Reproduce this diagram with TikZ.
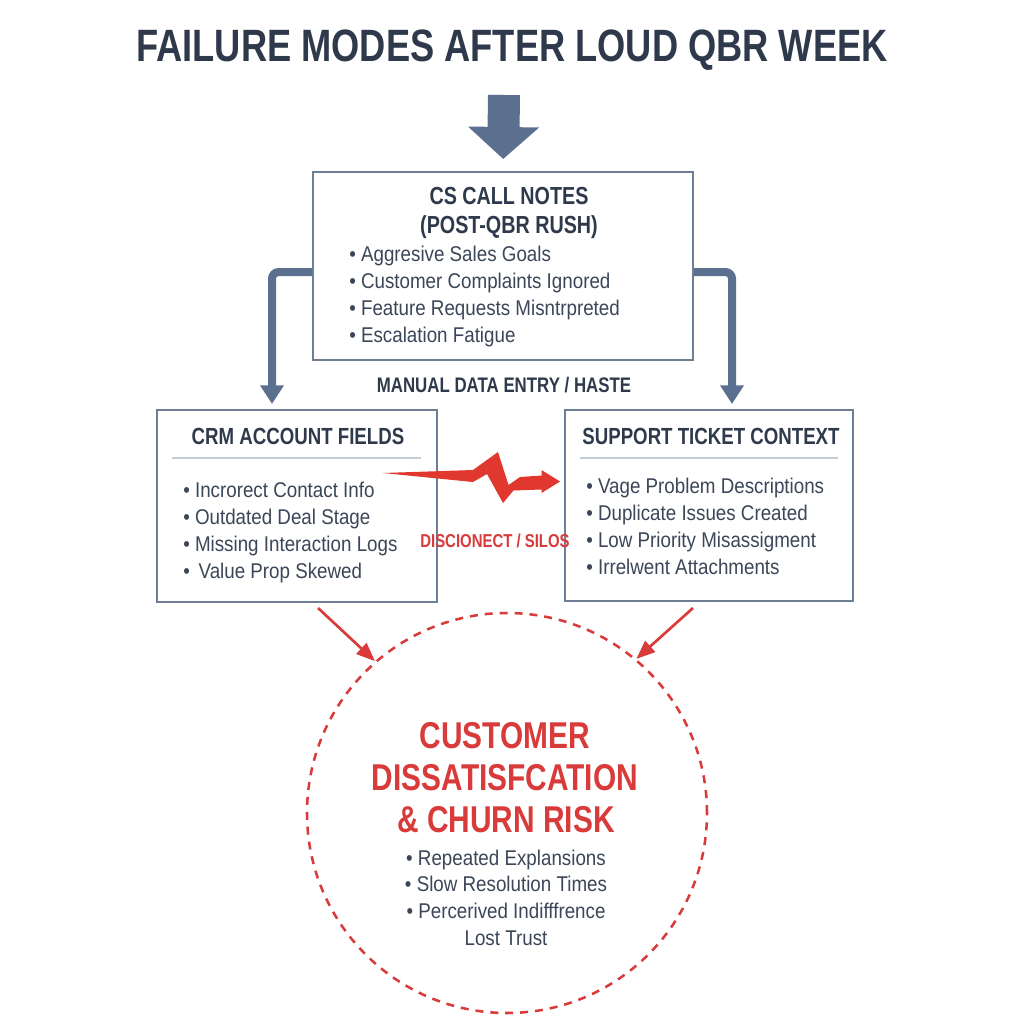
\documentclass[tikz,border=0pt]{standalone}
\usepackage{fontspec}
\usepackage{tikz}
\usetikzlibrary{calc,arrows.meta}
\setmainfont{Liberation Sans}
\newfontfamily\headfont{Liberation Sans}[FakeStretch=0.8]
\newfontfamily\itemfont{Liberation Sans}[FakeStretch=0.88]
\definecolor{slate}{HTML}{2E3A4B}
\definecolor{itemgray}{HTML}{3B4658}
\definecolor{boxline}{HTML}{6E7E94}
\definecolor{ruleline}{HTML}{C3CEDA}
\definecolor{flowblue}{HTML}{5B6F8E}
\definecolor{riskred}{HTML}{D93A3A}
\definecolor{boltred}{HTML}{E0372F}
\newcommand\fsize[2]{\fontsize{#1}{#2}\selectfont}
\newcommand\itemstep{27.3}
\tikzstyle{notebox}=[rectangle,draw=boxline,line width=1.5pt,fill=white,inner sep=0pt]
\tikzstyle{titletext}=[font=\headfont\bfseries\fsize{34pt}{40pt},text=slate,inner sep=0pt]
\tikzstyle{headtext}=[font=\headfont\bfseries\fsize{17.5pt}{21pt},text=slate,inner sep=0pt]
\tikzstyle{itemtext}=[font=\itemfont\fsize{16pt}{20pt},text=itemgray,inner sep=0pt]
\tikzstyle{labeltext}=[font=\headfont\bfseries\fsize{15.8pt}{19pt},text=slate,inner sep=0pt]
\tikzstyle{risktext}=[font=\headfont\bfseries\fsize{28pt}{32pt},text=riskred,inner sep=0pt]
\tikzstyle{flowarrow}=[draw=flowblue,line width=6pt,rounded corners=5pt,
                       -{Triangle[width=17pt,length=14pt]}]
\tikzstyle{riskarrow}=[draw=riskred,line width=2pt,-{Triangle[width=11pt,length=14pt]}]

\begin{document}
\begin{tikzpicture}[x=0.75pt,y=-0.75pt]
    \useasboundingbox[fill=white] (0,0) rectangle (1024,1024);
    % title and entry arrow
    \node [titletext,anchor=base] (title) at (512,62) {FAILURE MODES AFTER LOUD QBR WEEK};
    \coordinate (entry) at (504,95);

    % boxes
    \node [notebox,minimum width=285pt,minimum height=141pt] (cs) at (503,266) {};
    \node [notebox,minimum width=210pt,minimum height=144pt] (crm) at (297,506) {};
    \node [notebox,minimum width=216pt,minimum height=143pt] (support) at (709,505.5) {};
    \node [circle,draw=riskred,line width=1.9pt,dash pattern=on 6pt off 5.2pt,
           minimum size=300pt,inner sep=0pt] (churn) at (507,813) {};

    \draw [draw=flowblue,line width=24pt,-{Triangle[width=52pt,length=24pt]},shorten >=9pt]
        (entry) -- (cs.north);

    % CS call notes
    \node [headtext,anchor=base,font=\headfont\bfseries\fsize{18.5pt}{22pt}] (cshead1) at (509,204) {CS CALL NOTES};
    \node [headtext,anchor=base,font=\headfont\bfseries\fsize{18.5pt}{22pt}] (cshead2) at (509,233) {(POST-QBR RUSH)};
    \foreach \txt [count=\i] in {Aggresive Sales Goals,Customer Complaints Ignored,
                                 Feature Requests Misntrpreted,Escalation Fatigue}
        \node [itemtext,anchor=base west] (csitem\i) at (349,{261+\itemstep*(\i-1)}) {\textbullet\ \txt};

    \coordinate (crmin) at (272,404);
    \coordinate (supportin) at (732,404);
    \draw [flowarrow] ($(cs.west)+(0,6)$) -| (crmin);
    \draw [flowarrow] ($(cs.east)+(0,6)$) -| (supportin);
    \node [labeltext,anchor=base] (haste) at (504,392) {MANUAL DATA ENTRY / HASTE};

    % CRM account fields
    \node [headtext,anchor=base] (crmhead) at (298,444) {CRM ACCOUNT FIELDS};
    \draw [ruleline,line width=1.5pt] ($(crm.west)+(16,-48)$) -- ($(crm.east)+(-17,-48)$);
    \foreach \txt [count=\i] in {Incrorect Contact Info,Outdated Deal Stage,
                                 Missing Interaction Logs,\,Value Prop Skewed}
        \node [itemtext,anchor=base west] (crmitem\i) at (183,{497+\itemstep*(\i-1)}) {\textbullet\ \txt};

    % support ticket context
    \node [headtext,anchor=base] (supporthead) at (711,444) {SUPPORT TICKET CONTEXT};
    \draw [ruleline,line width=1.5pt] ($(support.west)+(16,-48)$) -- ($(support.east)+(-16,-48)$);
    \foreach \txt [count=\i] in {Vage Problem Descriptions,Duplicate Issues Created,
                                 Low Priority Misassigment,Irrelwent Attachments}
        \node [itemtext,anchor=base west] (supportitem\i) at (586,{493+\itemstep*(\i-1)}) {\textbullet\ \txt};

    % disconnect bolt
    \fill [boltred] (383,473) -- (473,470) -- (498,452) -- (508.5,485) -- (520,477)
        -- (541.5,475.5) -- (541.5,470) -- (560,481.5) -- (541.5,493) -- (541.5,489.5)
        -- (513.5,490.5) -- (503,503) -- (487,474) -- (473,482) -- cycle;
    \node [labeltext,anchor=base,text=riskred,font=\headfont\bfseries\fsize{14pt}{17pt}] (silos) at (495,547) {DISCIONECT / SILOS};

    % churn risk
    \coordinate (crmout) at (318,608);
    \coordinate (supportout) at (693,608);
    \draw [riskarrow] (crmout) -- (churn.131);
    \draw [riskarrow] (supportout) -- (churn.50);
    \node [risktext,anchor=base] (risk1) at (505,748) {CUSTOMER};
    \node [risktext,anchor=base] (risk2) at (505,790) {DISSATISFCATION};
    \node [risktext,anchor=base] (risk3) at (506,832) {\& CHURN RISK};
    \foreach \txt [count=\i] in {\textbullet\ Repeated Explansions,\textbullet\ Slow Resolution Times,
                                 \textbullet\ Percerived Indifffrence,Lost Trust}
        \node [itemtext,anchor=base] (riskitem\i) at (506,{865+26.8*(\i-1)}) {\txt};
\end{tikzpicture}
\end{document}
